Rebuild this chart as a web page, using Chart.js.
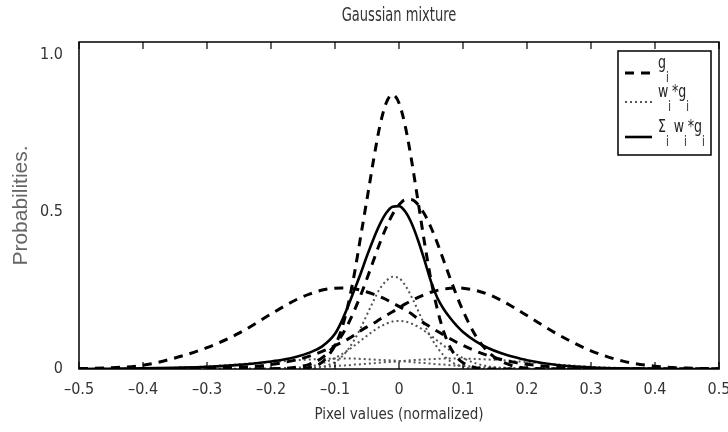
<!DOCTYPE html>
<html>
<head>
<meta charset="utf-8">
<script src="https://cdn.jsdelivr.net/npm/chart.js@4.4.1/dist/chart.umd.min.js"></script>
<style>
  html, body { margin: 0; padding: 0; background: #fff; }
  canvas { display: block; }
</style>
</head>
<body>
<canvas id="chart" width="728" height="432"></canvas>
<script>
// pixel values (normalized) - finer sampling around the peak
const xValues = [-0.5, -0.45, -0.4, -0.35, -0.3, -0.25, -0.2, -0.18, -0.16, -0.14, -0.12,
  -0.1, -0.09, -0.08, -0.07, -0.06, -0.05, -0.04, -0.03, -0.02, -0.01, 0,
  0.01, 0.02, 0.03, 0.04, 0.05, 0.06, 0.07, 0.08, 0.09, 0.1,
  0.12, 0.14, 0.16, 0.18, 0.2, 0.25, 0.3, 0.35, 0.4, 0.45, 0.5];

// g_i (dashed)
const gNarrow = [0, 0, 0, 0, 0, 0, 0, 0, 0, 0.005, 0.022,
  0.075, 0.125, 0.2, 0.3, 0.42, 0.54, 0.662, 0.772, 0.846, 0.873, 0.846,
  0.77, 0.659, 0.53, 0.4, 0.283, 0.189, 0.118, 0.069, 0.038, 0.02,
  0.004, 0, 0, 0, 0, 0, 0, 0, 0, 0, 0];
const gCenter = [0, 0, 0, 0, 0, 0, 0.001, 0.002, 0.006, 0.015, 0.036,
  0.076, 0.105, 0.141, 0.185, 0.234, 0.288, 0.344, 0.4, 0.45, 0.492, 0.522,
  0.538, 0.538, 0.522, 0.492, 0.45, 0.4, 0.344, 0.288, 0.234, 0.185,
  0.105, 0.053, 0.024, 0.009, 0.003, 0, 0, 0, 0, 0, 0];
const gLeft = [0.001, 0.004, 0.012, 0.035, 0.068, 0.114, 0.175, 0.199, 0.221, 0.238, 0.251,
  0.257, 0.258, 0.257, 0.255, 0.251, 0.245, 0.238, 0.23, 0.221, 0.21, 0.199,
  0.187, 0.175, 0.158, 0.145, 0.132, 0.12, 0.108, 0.096, 0.085, 0.075,
  0.057, 0.042, 0.03, 0.021, 0.015, 0.005, 0.002, 0.001, 0, 0, 0];
const gRight = [0, 0, 0, 0.001, 0.001, 0.005, 0.014, 0.021, 0.029, 0.041, 0.056,
  0.074, 0.084, 0.095, 0.108, 0.122, 0.134, 0.145, 0.158, 0.17, 0.182, 0.195,
  0.207, 0.218, 0.228, 0.237, 0.244, 0.25, 0.254, 0.257, 0.258, 0.257,
  0.25, 0.237, 0.218, 0.195, 0.17, 0.108, 0.058, 0.025, 0.009, 0.003, 0.001];

// w_i * g_i (dotted)
const wgNarrow = [0, 0, 0, 0, 0, 0, 0, 0, 0, 0.001, 0.007,
  0.022, 0.038, 0.061, 0.092, 0.13, 0.173, 0.216, 0.255, 0.28, 0.293, 0.289,
  0.265, 0.228, 0.185, 0.14, 0.1, 0.068, 0.043, 0.025, 0.014, 0.007,
  0.001, 0, 0, 0, 0, 0, 0, 0, 0, 0, 0];
const wgCenter = [0, 0, 0, 0, 0, 0, 0, 0.001, 0.003, 0.008, 0.018,
  0.035, 0.046, 0.059, 0.074, 0.09, 0.106, 0.121, 0.134, 0.144, 0.151, 0.153,
  0.151, 0.144, 0.134, 0.121, 0.106, 0.09, 0.074, 0.059, 0.046, 0.035,
  0.018, 0.008, 0.003, 0.001, 0, 0, 0, 0, 0, 0, 0];
const wgLeft = [0, 0.001, 0.002, 0.004, 0.008, 0.015, 0.022, 0.025, 0.028, 0.03, 0.032,
  0.033, 0.033, 0.033, 0.033, 0.032, 0.031, 0.03, 0.029, 0.028, 0.027, 0.025,
  0.024, 0.022, 0.02, 0.019, 0.017, 0.015, 0.014, 0.012, 0.011, 0.01,
  0.007, 0.005, 0.004, 0.003, 0.002, 0.001, 0, 0, 0, 0, 0];
const wgRight = [0, 0, 0, 0, 0, 0.001, 0.002, 0.003, 0.004, 0.005, 0.007,
  0.009, 0.011, 0.012, 0.014, 0.015, 0.017, 0.018, 0.02, 0.022, 0.023, 0.025,
  0.026, 0.028, 0.029, 0.03, 0.031, 0.032, 0.033, 0.033, 0.033, 0.033,
  0.032, 0.03, 0.028, 0.025, 0.022, 0.014, 0.007, 0.003, 0.001, 0, 0];

// sum_i w_i * g_i (solid)
const mixture = [0, 0.001, 0.002, 0.004, 0.007, 0.013, 0.024, 0.03, 0.039, 0.052, 0.072,
  0.112, 0.15, 0.198, 0.25, 0.303, 0.36, 0.413, 0.46, 0.496, 0.516, 0.518,
  0.5, 0.462, 0.408, 0.345, 0.278, 0.226, 0.19, 0.162, 0.138, 0.118,
  0.088, 0.066, 0.05, 0.038, 0.028, 0.012, 0.005, 0.002, 0.001, 0, 0];

const xTicks = [-0.5, -0.4, -0.3, -0.2, -0.1, 0, 0.1, 0.2, 0.3, 0.4, 0.5];
const yTicks = [0, 0.5, 1.0];

const titleText = 'Gaussian mixture';
const xTitle = 'Pixel values (normalized)';
const yTitle = 'Probabilities.';
// legend rows: pieces of [text, subscript]
const legendLabels = [
  [['g', 'i']],
  [['w', 'i'], ['*g', 'i']],
  [['\u03A3', 'i'], [' w', 'i'], ['*g', 'i']]
];

const narrow = '"Liberation Sans Narrow", "DejaVu Sans Condensed", "Liberation Sans", sans-serif';

const toPoints = ys => xValues.map((x, i) => ({x: x, y: ys[i]}));
const fmt = v => v === 0 ? '0' : v.toFixed(1).replace('-', '\u2013');

const solidStyle = {borderColor: '#000', borderWidth: 2.6, borderDash: []};
const dashStyle = {borderColor: '#000', borderWidth: 3, borderDash: [9, 7]};
const dotStyle = {borderColor: '#555', borderWidth: 2, borderDash: [2, 3]};

const line = (ys, style) => Object.assign({
  data: toPoints(ys),
  pointRadius: 0,
  fill: false,
  cubicInterpolationMode: 'monotone'
}, style);

// text drawn a bit taller than wide, like the source figure
function tallText(ctx, text, x, y, size, stretch) {
  ctx.save();
  ctx.translate(x, y);
  ctx.scale(1, stretch);
  ctx.font = size + 'px ' + narrow;
  ctx.fillText(text, 0, 0);
  const w = ctx.measureText(text).width;
  ctx.restore();
  return w;
}

const frame = {
  id: 'frame',
  afterDatasetsDraw(chart) {
    const {ctx, chartArea: a, scales} = chart;
    ctx.save();
    ctx.strokeStyle = '#000';
    ctx.setLineDash([]);
    ctx.lineWidth = 1.5;
    ctx.strokeRect(a.left, a.top, a.right - a.left, a.bottom - a.top);

    // inward tick marks, top and bottom
    ctx.lineWidth = 1.2;
    ctx.beginPath();
    xTicks.forEach(v => {
      const px = scales.x.getPixelForValue(v);
      ctx.moveTo(px, a.bottom); ctx.lineTo(px, a.bottom - 7);
      ctx.moveTo(px, a.top); ctx.lineTo(px, a.top + 7);
    });
    ctx.stroke();

    // title over the plot centre
    ctx.fillStyle = '#333';
    ctx.textAlign = 'center';
    ctx.textBaseline = 'alphabetic';
    tallText(ctx, titleText, (a.left + a.right) / 2, 21, 14.5, 1.3);

    // legend box
    const box = {left: 618, top: 51, right: 711, bottom: 155};
    ctx.fillStyle = '#fff';
    ctx.fillRect(box.left, box.top, box.right - box.left, box.bottom - box.top);
    ctx.lineWidth = 1.5;
    ctx.strokeRect(box.left, box.top, box.right - box.left, box.bottom - box.top);

    const rowY = [73, 102, 137];
    const styles = [dashStyle, dotStyle, solidStyle];
    ctx.textAlign = 'left';
    legendLabels.forEach((parts, r) => {
      const y = rowY[r];
      const st = styles[r];
      ctx.strokeStyle = st.borderColor;
      ctx.lineWidth = st.borderWidth;
      ctx.setLineDash(st.borderDash);
      ctx.beginPath();
      ctx.moveTo(625, y); ctx.lineTo(652, y);
      ctx.stroke();
      ctx.setLineDash([]);

      let x = 658;
      ctx.fillStyle = '#222';
      parts.forEach(([main, sub]) => {
        x += tallText(ctx, main, x, y - 5, 14, 1.3);
        x += tallText(ctx, sub, x, y + 9, 11, 1.3) + 1;
      });
    });
    ctx.restore();
  }
};

new Chart(document.getElementById('chart'), {
  type: 'line',
  data: {
    datasets: [
      line(mixture, solidStyle),
      line(gNarrow, dashStyle),
      line(gCenter, dashStyle),
      line(gLeft, dashStyle),
      line(gRight, dashStyle),
      line(wgNarrow, dotStyle),
      line(wgCenter, dotStyle),
      line(wgLeft, dotStyle),
      line(wgRight, dotStyle)
    ]
  },
  options: {
    responsive: false,
    animation: false,
    layout: {padding: {left: 0, right: 9, top: 42, bottom: 0}},
    plugins: {
      legend: {display: false},
      tooltip: {enabled: false},
      title: {display: false}
    },
    scales: {
      x: {
        type: 'linear',
        min: -0.5,
        max: 0.5,
        afterBuildTicks: s => { s.ticks = xTicks.map(v => ({value: v})); },
        afterFit: s => { s.height = 63; s.paddingLeft = 0; s.paddingRight = 0; },
        grid: {display: false, drawTicks: false},
        border: {display: false},
        ticks: {
          color: '#333',
          font: {family: narrow, size: 16},
          padding: 11,
          maxRotation: 0,
          autoSkip: false,
          callback: v => fmt(v)
        },
        title: {
          display: true,
          text: xTitle,
          color: '#333',
          font: {family: narrow, size: 15},
          padding: {top: 0, bottom: 8}
        }
      },
      y: {
        type: 'linear',
        min: 0,
        max: 1.04,
        afterBuildTicks: s => { s.ticks = yTicks.map(v => ({value: v})); },
        afterFit: s => { s.width = 79; s.paddingTop = 0; s.paddingBottom = 0; },
        grid: {display: false, drawTicks: false},
        border: {display: false},
        ticks: {
          color: '#333',
          font: {family: narrow, size: 16},
          padding: 16,
          callback: v => fmt(v)
        },
        title: {
          display: true,
          text: yTitle,
          color: '#666',
          font: {family: '"Liberation Sans", Arial, sans-serif', size: 21},
          padding: {top: 9, bottom: 0}
        }
      }
    }
  },
  plugins: [frame]
});
</script>
</body>
</html>
